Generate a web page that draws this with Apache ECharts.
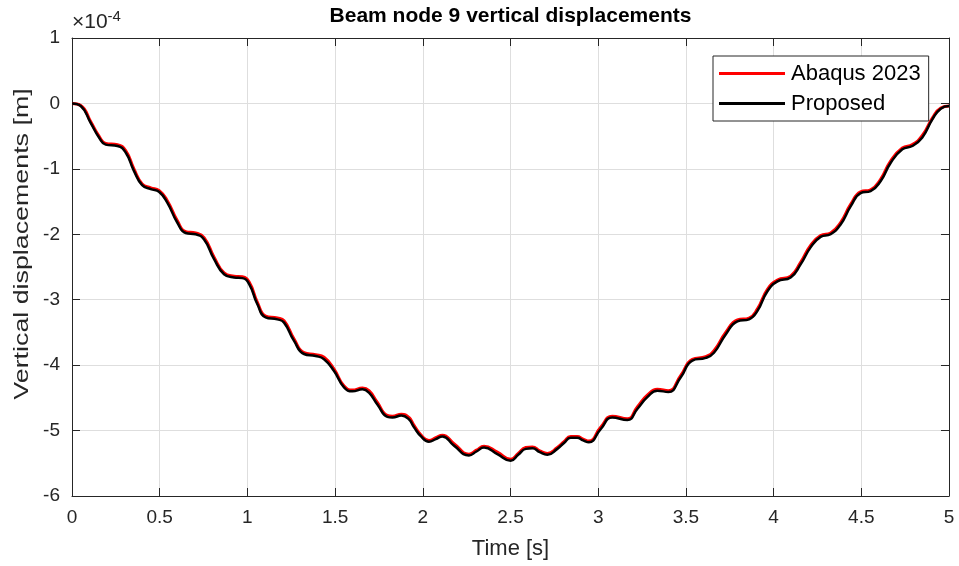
<!DOCTYPE html>
<html>
<head>
<meta charset="utf-8">
<script src="https://cdn.jsdelivr.net/npm/echarts@6/dist/echarts.min.js"></script>
<style>
html,body{margin:0;padding:0;background:#fff;}
#chart{width:959px;height:566px;}
</style>
</head>
<body>
<div id="chart"></div>
<script>
// Values of the y series are in units of 1e-4 m (axis shows ×10^-4)
const yExponent = -4;
const timeS = [0,0.05,0.107,0.154,0.192,0.259,0.306,0.353,0.40,0.449,
  0.496,0.544,0.60,0.648,0.705,0.753,0.81,0.867,0.924,0.971,
  1.01,1.057,1.104,1.171,1.209,1.266,1.323,1.389,1.437,1.494,
  1.551,1.599,1.656,1.693,1.741,1.798,1.827,1.878,1.921,1.95,
  1.99,2.035,2.074,2.112,2.178,2.263,2.306,2.349,2.425,2.501,
  2.544,2.587,2.625,2.667,2.71,2.767,2.805,2.843,2.88,2.914,
  2.947,3.014,3.08,3.166,3.223,3.28,3.337,3.40,3.47,3.537,
  3.613,3.66,3.727,3.794,3.86,3.908,3.965,4.022,4.097,4.154,
  4.211,4.268,4.325,4.382,4.44,4.496,4.553,4.61,4.667,4.734,
  4.791,4.848,4.906,4.953,5.0];
const abaqus2023 = [0,-0.03,-0.28,-0.50,-0.61,-0.63,-0.72,-1.00,-1.23,-1.29,
  -1.33,-1.49,-1.79,-1.96,-1.98,-2.05,-2.35,-2.59,-2.64,-2.65,
  -2.73,-3.04,-3.25,-3.28,-3.32,-3.60,-3.81,-3.84,-3.88,-4.06,
  -4.32,-4.38,-4.35,-4.39,-4.57,-4.77,-4.78,-4.75,-4.80,-4.92,
  -5.07,-5.15,-5.11,-5.07,-5.20,-5.36,-5.30,-5.24,-5.33,-5.44,
  -5.35,-5.26,-5.25,-5.31,-5.35,-5.26,-5.17,-5.09,-5.09,-5.13,
  -5.16,-4.95,-4.78,-4.82,-4.64,-4.46,-4.37,-4.39,-4.16,-3.91,
  -3.87,-3.78,-3.50,-3.31,-3.28,-3.14,-2.84,-2.70,-2.64,-2.43,
  -2.17,-2.02,-1.98,-1.82,-1.54,-1.35,-1.32,-1.16,-0.88,-0.68,
  -0.63,-0.49,-0.22,-0.07,-0.04];
const proposed = [0,-0.04,-0.30,-0.52,-0.63,-0.65,-0.75,-1.03,-1.25,-1.31,
  -1.35,-1.52,-1.82,-1.98,-2.00,-2.08,-2.38,-2.61,-2.66,-2.67,
  -2.76,-3.07,-3.27,-3.30,-3.35,-3.63,-3.83,-3.86,-3.91,-4.09,
  -4.34,-4.40,-4.37,-4.42,-4.60,-4.79,-4.80,-4.77,-4.83,-4.95,
  -5.09,-5.17,-5.13,-5.09,-5.23,-5.38,-5.32,-5.26,-5.36,-5.46,
  -5.37,-5.28,-5.27,-5.33,-5.37,-5.28,-5.19,-5.11,-5.11,-5.15,
  -5.18,-4.98,-4.80,-4.84,-4.67,-4.49,-4.39,-4.41,-4.19,-3.93,
  -3.89,-3.81,-3.53,-3.33,-3.30,-3.17,-2.87,-2.72,-2.66,-2.46,
  -2.20,-2.04,-2.00,-1.85,-1.57,-1.37,-1.34,-1.19,-0.91,-0.70,
  -0.65,-0.52,-0.24,-0.08,-0.04];
const xTicks = {min: 0, max: 5, step: 0.5};
const yTicks = {min: -6, max: 1, step: 1};
const seriesNames = ['Abaqus 2023', 'Proposed'];
const titleText = 'Beam node 9 vertical displacements';
const xLabel = 'Time [s]';
const yLabel = 'Vertical displacements [m]';

const FONT = '"Liberation Sans", Arial, Helvetica, sans-serif';
const AX = '#262626';
const GRID = {left: 72, top: 38, right: 10, bottom: 70};

function pairs(xs, ys){ return xs.map((x,i)=>[x, ys[i]]); }

const chart = echarts.init(document.getElementById('chart'), null, {renderer:'canvas'});
function axisCommon(){
  return {
    axisLine: {show: true, onZero: false, lineStyle: {color: AX, width: 1}},
    axisTick: {show: true, inside: true, length: 8, lineStyle: {color: AX, width: 1}},
  };
}
chart.setOption({
  animation: false,
  backgroundColor: '#fff',
  grid: GRID,
  graphic: [
    {type: 'text', x: 510.5, y: 6,
     style: {text: titleText, font: 'bold 21px ' + FONT, fill: '#000', textAlign: 'center', textVerticalAlign: 'top'}},
    {type: 'text', x: 72, y: 9,
     style: {
       text: '{a|×10}{b|' + yExponent + '}',
       rich: {
         a: {font: '21px ' + FONT, fill: AX, verticalAlign: 'bottom', lineHeight: 24},
         b: {font: '15px ' + FONT, fill: AX, verticalAlign: 'top', lineHeight: 15, padding:[0,0,12,0]}
       }
     }},
    {type: 'text', x: 22, y: 244, rotation: Math.PI / 2, scaleX: 1.34, scaleY: 1,
     style: {text: yLabel, font: '20px ' + FONT, fill: AX, textAlign: 'center', textVerticalAlign: 'middle'}}
  ],
  legend: {
    orient: 'vertical', left: 713, top: 56,
    padding: [6, 8, 6, 6],
    itemGap: 7,
    itemWidth: 66, itemHeight: 3,
    backgroundColor: '#fff',
    borderColor: AX, borderWidth: 1, borderRadius: 0,
    textStyle: {fontFamily: FONT, fontSize: 22, color: '#000', lineHeight: 23, padding: [0,0,0,1]},
    data: [
      {name: seriesNames[0], icon: 'rect', itemStyle: {color: '#ff0000'}},
      {name: seriesNames[1], icon: 'rect', itemStyle: {color: '#000000'}}
    ]
  },
  xAxis: [
    Object.assign({
      type: 'value', min: xTicks.min, max: xTicks.max, interval: xTicks.step,
      name: xLabel, nameLocation: 'middle', nameGap: 42,
      nameTextStyle: {fontFamily: FONT, fontSize: 22, color: AX},
      axisLabel: {fontFamily: FONT, fontSize: 19, color: AX, margin: 12},
      splitLine: {show: true, lineStyle: {color: '#dedede', width: 1}}
    }, axisCommon()),
    Object.assign({
      type: 'value', position: 'top', min: xTicks.min, max: xTicks.max, interval: xTicks.step,
      axisLabel: {show: false}, splitLine: {show: false}
    }, axisCommon())
  ],
  yAxis: [
    Object.assign({
      type: 'value', min: yTicks.min, max: yTicks.max, interval: yTicks.step,
      axisLabel: {fontFamily: FONT, fontSize: 19, color: AX, margin: 12},
      splitLine: {show: true, lineStyle: {color: '#dedede', width: 1}}
    }, axisCommon()),
    Object.assign({
      type: 'value', position: 'right', min: yTicks.min, max: yTicks.max, interval: yTicks.step,
      axisLabel: {show: false}, splitLine: {show: false}
    }, axisCommon())
  ],
  series: [
    {name: seriesNames[0], type: 'line', data: pairs(timeS, abaqus2023),
     showSymbol: false, smooth: 0.5,
     lineStyle: {color: '#ff0000', width: 3}, itemStyle: {color: '#ff0000'}, z: 2},
    {name: seriesNames[1], type: 'line', data: pairs(timeS, proposed),
     showSymbol: false, smooth: 0.5,
     lineStyle: {color: '#000000', width: 2.5}, itemStyle: {color: '#000000'}, z: 3}
  ]
});
</script>
</body>
</html>
